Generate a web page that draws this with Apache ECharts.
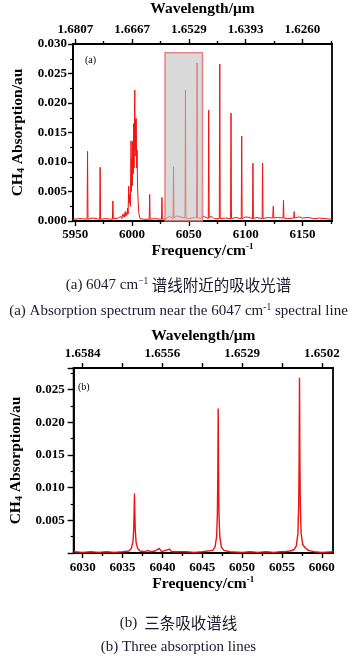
<!DOCTYPE html>
<html><head><meta charset="utf-8">
<script src="https://cdn.jsdelivr.net/npm/echarts@6/dist/echarts.min.js"></script>
<style>html,body{margin:0;padding:0;background:#fff}#c{width:357px;height:658px}</style>
</head><body><div id="c"></div>
<script>
// ---- Data: panel (a) full spectrum ----
const freqA = [5948,5955,5960.4,5960.8,5961.2,5965,5971.5,5971.9,5972.3,5977,5982.7,5983.1,5983.5,5988,5990,5991,5992,5993,5994,5994.5,5995,5995.5,5996,5996.5,5997,5997.4,5998,5998.5,5999.1,5999.4,5999.8,6000.2,6000.6,6001,6001.4,6001.8,6002.1,6002.4,6002.7,6003,6003.3,6003.6,6004,6004.4,6004.8,6005.3,6006,6007,6010,6015.1,6015.5,6015.9,6020,6025.9,6026.3,6026.7,6030,6033,6036.1,6036.5,6036.9,6039,6040,6041,6042,6044,6046.6,6047.0,6047.4,6050,6055,6056.8,6057.2,6057.6,6060,6063,6067.1,6067.5,6067.9,6070,6072,6076.8,6077.2,6077.6,6082,6086.7,6087.1,6087.5,6091,6096.1,6096.5,6096.9,6100,6103,6106,6106.4,6106.8,6110,6114.5,6114.9,6115.3,6119,6123.8,6124.3,6124.8,6128,6132.9,6133.3,6133.7,6137,6142.3,6142.7,6143.1,6147,6150,6155,6160,6165,6170,6176];
const absA  = [0.0003,0.0004,0.0003,0.0118,0.0003,0.0005,0.0003,0.0091,0.0003,0.0004,0.0003,0.0034,0.0004,0.0005,0.0008,0.0004,0.0012,0.0006,0.0016,0.0008,0.0014,0.001,0.0022,0.0012,0.0059,0.003,0.0045,0.0025,0.0136,0.005,0.0105,0.006,0.0135,0.008,0.0165,0.009,0.017,0.0222,0.012,0.0172,0.011,0.0174,0.009,0.012,0.006,0.0035,0.0012,0.0004,0.0003,0.0003,0.0045,0.0003,0.0004,0.0003,0.004,0.0003,0.0004,0.0008,0.0004,0.0092,0.0005,0.0008,0.001,0.0008,0.0009,0.0006,0.0005,0.0222,0.0005,0.0004,0.0006,0.0005,0.0268,0.0006,0.0004,0.0008,0.0004,0.0188,0.0006,0.0008,0.0004,0.0004,0.0266,0.0004,0.0005,0.0004,0.0183,0.0004,0.0006,0.0004,0.0144,0.0004,0.0007,0.0006,0.0004,0.0098,0.0004,0.0006,0.0004,0.0098,0.0004,0.0006,0.0005,0.0025,0.0005,0.0006,0.0005,0.0035,0.0005,0.0004,0.0005,0.0016,0.0005,0.0007,0.0005,0.0006,0.0004,0.0005,0.0004,0.0003];
// ---- Data: panel (b) three lines ----
const freqB = [6028.9,6030,6031,6032,6033,6034,6035,6035.8,6036.1,6036.3,6036.4,6036.45,6036.5,6036.55,6036.6,6036.7,6036.9,6037.2,6037.8,6038.2,6038.5,6039.1,6039.35,6039.6,6039.9,6040.4,6040.65,6040.9,6041.15,6041.4,6041.6,6041.8,6042.0,6042.2,6042.5,6043,6044,6045,6046.3,6046.6,6046.8,6046.9,6046.95,6047.0,6047.05,6047.1,6047.2,6047.4,6047.7,6048.5,6050,6051,6052,6053,6054,6054.8,6055.0,6055.3,6056,6056.5,6056.8,6057.0,6057.1,6057.15,6057.2,6057.25,6057.3,6057.4,6057.6,6057.9,6058.3,6059,6060,6061.4];
const absB  = [0.0002,0.0001,0.0002,0.0001,0.0002,0.0001,0.0002,0.0003,0.0007,0.0016,0.0035,0.006,0.0091,0.006,0.0035,0.0016,0.0007,0.0003,0.0002,0.0004,0.0002,0.0003,0.0002,0.0007,0.0002,0.0004,0.0002,0.0006,0.0002,0.0004,0.0002,0.0005,0.0002,0.0004,0.0002,0.0002,0.0001,0.0002,0.0004,0.0009,0.0025,0.006,0.012,0.0221,0.012,0.006,0.0025,0.0009,0.0004,0.0002,0.0001,0.0002,0.0001,0.0002,0.0001,0.0002,0.0004,0.0002,0.0003,0.0005,0.0011,0.003,0.0075,0.014,0.0268,0.014,0.0075,0.003,0.0013,0.0008,0.0004,0.0002,0.0001,0.0002];
// ---- Ticks / labels ----
const freqTicksA = [5950,6000,6050,6100,6150];
const freqMinorA = [5975,6025,6075,6125,6175];
const waveLabelsA = ['1.6807','1.6667','1.6529','1.6393','1.6260'];
const freqTicksB = [6030,6035,6040,6045,6050,6055,6060];
const freqMinorB = [6032.5,6037.5,6042.5,6047.5,6052.5,6057.5];
const waveTicksB = [6030,6040,6050,6060];
const waveLabelsB = ['1.6584','1.6556','1.6529','1.6502'];
const boxA = {x0: 6029, x1: 6062, y1: 0.0285};

const SERIF = "'Liberation Serif','Times New Roman',serif";
const CJK = "'Noto Sans CJK SC',sans-serif";
const BLK = '#000';
const RED = '#f01212';
const CAP = '#1a1a2e';

const lbl = (extra) => Object.assign({fontFamily: SERIF, fontWeight: 'bold', fontSize: 13, color: BLK}, extra);
const line = {show: true, onZero: false, lineStyle: {color: BLK, width: 1.8}};
const hidden = {show: false, onZero: false};
const tick = (vals, len) => ({show: true, customValues: vals, length: len, lineStyle: {color: BLK, width: 1.4}});
const freqName = '{t|Frequency/cm}{s|-1}';
const freqRich = {t: {fontFamily: SERIF, fontWeight: 'bold', fontSize: 15.5, lineHeight: 17, color: BLK},
                  s: {fontFamily: SERIF, fontWeight: 'bold', fontSize: 9, lineHeight: 9, verticalAlign: 'top', color: BLK}};
const waveStyle = {fontFamily: SERIF, fontWeight: 'bold', fontSize: 15.5, color: BLK};
const chRich = {t: {fontFamily: SERIF, fontWeight: 'bold', fontSize: 15.5, lineHeight: 17, color: BLK},
                s: {fontFamily: SERIF, fontWeight: 'bold', fontSize: 10, lineHeight: 10, verticalAlign: 'bottom', color: BLK}};
const capT = {fontFamily: SERIF, fontSize: 15, fontWeight: 'normal', color: CAP, lineHeight: 18};
const capS = {fontFamily: SERIF, fontSize: 9.5, fontWeight: 'normal', color: CAP, lineHeight: 9, verticalAlign: 'top'};
const capC = {fontFamily: CJK, fontSize: 15.5, fontWeight: 'normal', color: CAP, lineHeight: 18};

function xAx(g, pos, min, max, opts) {
  return Object.assign({gridIndex: g, type: 'value', position: pos, min: min, max: max,
    splitLine: {show: false}, axisLine: hidden, axisLabel: {show: false}, axisTick: {show: false}}, opts);
}

const option = {
  animation: false,
  backgroundColor: '#fff',
  title: [
    {text: '{t|(a) 6047 cm}{s|\u22121}{c| 谱线附近的吸收光谱}', left: 'center', top: 271,
     textStyle: {fontWeight: 'normal', rich: {t: capT, s: capS, c: capC}}},
    {text: '{t|(a) Absorption spectrum near the 6047 cm}{s|-1}{t| spectral line}', left: 'center', top: 297,
     textStyle: {fontWeight: 'normal', rich: {t: capT, s: capS}}},
    {text: '{t|(b)}{c|  三条吸收谱线}', left: 'center', top: 609,
     textStyle: {fontWeight: 'normal', rich: {t: capT, c: capC}}},
    {text: '(b) Three absorption lines', left: 'center', top: 635,
     textStyle: {fontFamily: SERIF, fontSize: 15, fontWeight: 'normal', color: CAP}},
    {text: '(a)', left: 80, top: 50, textStyle: {fontFamily: SERIF, fontSize: 10, fontWeight: 'normal', color: BLK}},
    {text: '(b)', left: 73, top: 377, textStyle: {fontFamily: SERIF, fontSize: 10, fontWeight: 'normal', color: BLK}}
  ],
  grid: [
    {left: 73, top: 42, width: 259, height: 179, show: true, borderColor: BLK, borderWidth: 1.8, backgroundColor: 'transparent'},
    {left: 67, top: 368, width: 266, height: 185, show: true, borderColor: BLK, borderWidth: 1.8, backgroundColor: 'transparent'}
  ],
  xAxis: [
    // panel a
    xAx(0, 'bottom', 5948, 6176, {axisLine: line, axisTick: tick(freqTicksA, 5),
      axisLabel: lbl({customValues: freqTicksA, margin: 7, formatter: v => String(v)}),
      name: freqName, nameLocation: 'middle', nameGap: 21, nameTextStyle: {rich: freqRich}}),
    xAx(0, 'bottom', 5948, 6176, {axisTick: tick(freqMinorA, 3)}),
    xAx(0, 'top', 5948, 6176, {axisLine: line, axisTick: tick(freqTicksA, 5),
      axisLabel: lbl({customValues: freqTicksA, margin: 8, formatter: v => waveLabelsA[freqTicksA.indexOf(Math.round(v))] || ''}),
      name: 'Wavelength/\u03bcm', nameLocation: 'middle', nameGap: 27, nameTextStyle: waveStyle}),
    xAx(0, 'top', 5948, 6176, {axisTick: tick(freqMinorA, 3)}),
    // panel b
    xAx(1, 'bottom', 6028.87, 6061.4, {axisLine: line, axisTick: tick(freqTicksB, 5),
      axisLabel: lbl({customValues: freqTicksB, margin: 8, formatter: v => String(v)}),
      name: freqName, nameLocation: 'middle', nameGap: 22, nameTextStyle: {rich: freqRich}}),
    xAx(1, 'bottom', 6028.87, 6061.4, {axisTick: tick(freqMinorB, 3)}),
    xAx(1, 'top', 6028.87, 6061.4, {axisLine: line, axisTick: tick(freqTicksB, 5),
      axisLabel: lbl({customValues: waveTicksB, margin: 8, formatter: v => waveLabelsB[waveTicksB.indexOf(Math.round(v))] || ''}),
      name: 'Wavelength/\u03bcm', nameLocation: 'middle', nameGap: 24, nameTextStyle: waveStyle})
  ],
  yAxis: [
    {gridIndex: 0, type: 'value', min: 0, max: 0.03, interval: 0.005, splitLine: {show: false},
     axisLine: line, axisTick: {show: true, length: 5, lineStyle: {color: BLK, width: 1.4}},
     minorTick: {show: true, splitNumber: 2, length: 3, lineStyle: {color: BLK, width: 1.2}},
     axisLabel: lbl({margin: 6, formatter: v => v.toFixed(3)}),
     name: '{t|CH}{s|4}{t| Absorption/au}', nameLocation: 'middle', nameGap: 42, nameTextStyle: {rich: chRich}},
    {gridIndex: 1, type: 'value', min: 0, max: 0.0283, interval: 0.005, splitLine: {show: false},
     axisLine: line, axisTick: {show: true, length: 6, lineStyle: {color: BLK, width: 1.4}},
     minorTick: {show: true, splitNumber: 2, length: 3, lineStyle: {color: BLK, width: 1.2}},
     axisLabel: lbl({margin: 9, showMaxLabel: false, formatter: v => v === 0 ? '' : v.toFixed(3)}),
     name: '{t|CH}{s|4}{t| Absorption/au}', nameLocation: 'middle', nameGap: 44, nameTextStyle: {rich: chRich}}
  ],
  series: [
    {type: 'line', xAxisIndex: 0, yAxisIndex: 0, data: freqA.map((f, i) => [f, absA[i]]),
     showSymbol: false, symbol: 'none', lineStyle: {color: RED, width: 1}, itemStyle: {color: RED}, z: 2},
    {type: 'line', xAxisIndex: 0, yAxisIndex: 0, data: [], z: 10,
     markArea: {silent: true, z: 10,
       itemStyle: {color: 'rgba(195,195,195,0.62)', borderColor: 'rgba(235,110,110,0.85)', borderWidth: 1.5},
       data: [[{xAxis: boxA.x0, yAxis: 0}, {xAxis: boxA.x1, yAxis: boxA.y1}]]}},
    {type: 'line', xAxisIndex: 4, yAxisIndex: 1, data: freqB.map((f, i) => [f, absB[i]]),
     showSymbol: false, symbol: 'none', lineStyle: {color: RED, width: 1.4}, itemStyle: {color: RED}}
  ]
};
const chart = echarts.init(document.getElementById('c'), null, {renderer: 'canvas'});
chart.setOption(option);
</script>
</body></html>
